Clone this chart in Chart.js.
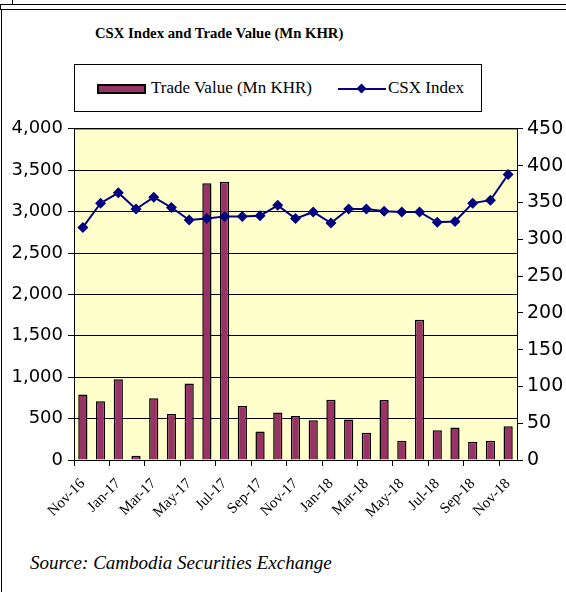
<!DOCTYPE html>
<html>
<head>
<meta charset="utf-8">
<script src="https://cdn.jsdelivr.net/npm/chart.js@4.4.1/dist/chart.umd.min.js"></script>
<style>
  html, body { margin: 0; padding: 0; background: #fff; }
  body { width: 566px; height: 592px; position: relative; overflow: hidden; font-family: 'Liberation Serif', serif; }
  .frame-top { position: absolute; left: 0; top: 4px; width: 600px; height: 4px; border: 1px solid #000; border-right: none; }
  .frame-left { position: absolute; left: 1px; top: 9px; width: 0; height: 600px; border-left: 1px solid #000; }
  .frame-stub { position: absolute; left: 12px; top: 0; width: 0; height: 4px; border-left: 1px solid #000; }
  #title { position: absolute; left: 95px; top: 25px; font-weight: bold; font-size: 14.7px; color: #000; white-space: nowrap; }
  #legend { position: absolute; left: 74px; top: 64px; width: 408px; height: 48px; border: 1px solid #000; box-sizing: border-box; }
  .lg-bar { position: absolute; left: 22px; top: 19px; width: 45px; height: 6px; background: #993366; border: 2px solid #000; }
  .lg-text { position: absolute; top: 13px; font-size: 17px; color: #000; white-space: nowrap; }
  .lg-line { position: absolute; left: 263px; top: 23px; width: 48px; height: 2px; background: #000080; }
  .lg-dot { position: absolute; left: 283px; top: 20px; width: 7px; height: 7px; background: #000080; transform: rotate(45deg); }
  #chartBox { position: absolute; left: 0; top: 113px; width: 566px; height: 424px; }
  #source { position: absolute; left: 30px; top: 552px; font-style: italic; font-size: 19px; color: #000; white-space: nowrap; }
</style>
</head>
<body>
<div class="frame-stub"></div>
<div class="frame-top"></div>
<div class="frame-left"></div>
<div id="title">CSX Index and Trade Value (Mn KHR)</div>
<div id="legend">
  <div class="lg-bar"></div>
  <div class="lg-text" style="left:76px">Trade Value (Mn KHR)</div>
  <div class="lg-line"></div>
  <div class="lg-dot"></div>
  <div class="lg-text" style="left:313px">CSX Index</div>
</div>
<div id="chartBox"><canvas id="csxChart" width="566" height="424"></canvas></div>
<div id="source">Source: Cambodia Securities Exchange</div>

<script>
// Monthly categories, Nov-16 to Nov-18
const months = ['Nov-16', 'Dec-16', 'Jan-17', 'Feb-17', 'Mar-17', 'Apr-17', 'May-17', 'Jun-17', 'Jul-17',
  'Aug-17', 'Sep-17', 'Oct-17', 'Nov-17', 'Dec-17', 'Jan-18', 'Feb-18', 'Mar-18', 'Apr-18', 'May-18',
  'Jun-18', 'Jul-18', 'Aug-18', 'Sep-18', 'Oct-18', 'Nov-18'];

// Trade value, Mn KHR (left axis)
const tradeValue = [790, 710, 975, 50, 745, 556, 925, 3343, 3360, 652, 345, 573, 532,
  480, 729, 489, 328, 725, 232, 1694, 360, 393, 220, 232, 408];

// CSX Index (right axis)
const csxIndex = [316, 349, 363, 341, 357, 343, 326, 328, 331, 331, 332, 346, 328,
  337, 322, 341, 341, 338, 337, 337, 323, 324, 349, 353, 388];

const leftTicks = [0, 500, 1000, 1500, 2000, 2500, 3000, 3500, 4000];
const rightTicks = [0, 50, 100, 150, 200, 250, 300, 350, 400, 450];

document.addEventListener('DOMContentLoaded', function () {
  // pale yellow plot area with grey top edge
  const plotArea = {
    id: 'plotArea',
    beforeDraw(chart) {
      const { ctx, chartArea: a } = chart;
      ctx.save();
      ctx.fillStyle = '#FFFFCC';
      ctx.fillRect(a.left, a.top, a.right - a.left, a.bottom - a.top);
      ctx.strokeStyle = '#808080';
      ctx.lineWidth = 1;
      ctx.beginPath();
      ctx.moveTo(a.left, a.top + 0.5);
      ctx.lineTo(a.right, a.top + 0.5);
      ctx.stroke();
      ctx.restore();
    },
  };

  const ctx = document.getElementById('csxChart').getContext('2d');
  new Chart(ctx, {
    type: 'bar',
    data: {
      labels: months,
      datasets: [
        {
          type: 'line',
          label: 'CSX Index',
          data: csxIndex,
          yAxisID: 'y1',
          borderColor: '#000080',
          backgroundColor: '#000080',
          borderWidth: 2,
          pointStyle: 'rectRot',
          pointRadius: 5.5,
          pointBorderWidth: 0,
          tension: 0,
          order: 0,
        },
        {
          label: 'Trade Value (Mn KHR)',
          data: tradeValue,
          yAxisID: 'y',
          backgroundColor: '#993366',
          borderColor: '#000000',
          borderWidth: 1.5,
          categoryPercentage: 1,
          barPercentage: 0.52,
          order: 1,
        },
      ],
    },
    options: {
      responsive: false,
      animation: false,
      layout: { padding: { top: 10, left: 0, right: 0, bottom: 0 } },
      plugins: {
        legend: { display: false },
        title: { display: false },
        tooltip: { enabled: false },
      },
      scales: {
        x: {
          offset: true,
          grid: {
            offset: true,
            drawOnChartArea: false,
            tickLength: 6,
            color: (c) => (c.index % 2 === 0 ? '#000' : 'rgba(0,0,0,0)'),
          },
          border: { color: '#000' },
          ticks: {
            autoSkip: false,
            minRotation: 45,
            maxRotation: 45,
            padding: 9,
            color: '#000',
            font: { family: 'Liberation Serif', size: 15 },
            callback: function (value, index) {
              return index % 2 === 0 ? months[index] : '';
            },
          },
          afterFit: (scale) => { scale.height = 77; },
        },
        y: {
          position: 'left',
          min: 0,
          max: 4000,
          afterBuildTicks: (scale) => { scale.ticks = leftTicks.map((v) => ({ value: v })); },
          grid: { color: '#000', tickLength: 6 },
          border: { color: '#000' },
          ticks: {
            padding: 5,
            color: '#000',
            font: { family: 'DejaVu Sans', size: 18 },
            callback: (v) => v.toLocaleString('en-US'),
          },
          afterFit: (scale) => { scale.width = 74; },
        },
        y1: {
          position: 'right',
          min: 0,
          max: 450,
          afterBuildTicks: (scale) => { scale.ticks = rightTicks.map((v) => ({ value: v })); },
          grid: { drawOnChartArea: false, color: '#000', tickLength: 6 },
          border: { color: '#000' },
          ticks: {
            padding: 4,
            color: '#000',
            font: { family: 'DejaVu Sans', size: 19 },
          },
          afterFit: (scale) => { scale.width = 49; },
        },
      },
    },
    plugins: [plotArea],
  });
});
</script>
</body>
</html>
